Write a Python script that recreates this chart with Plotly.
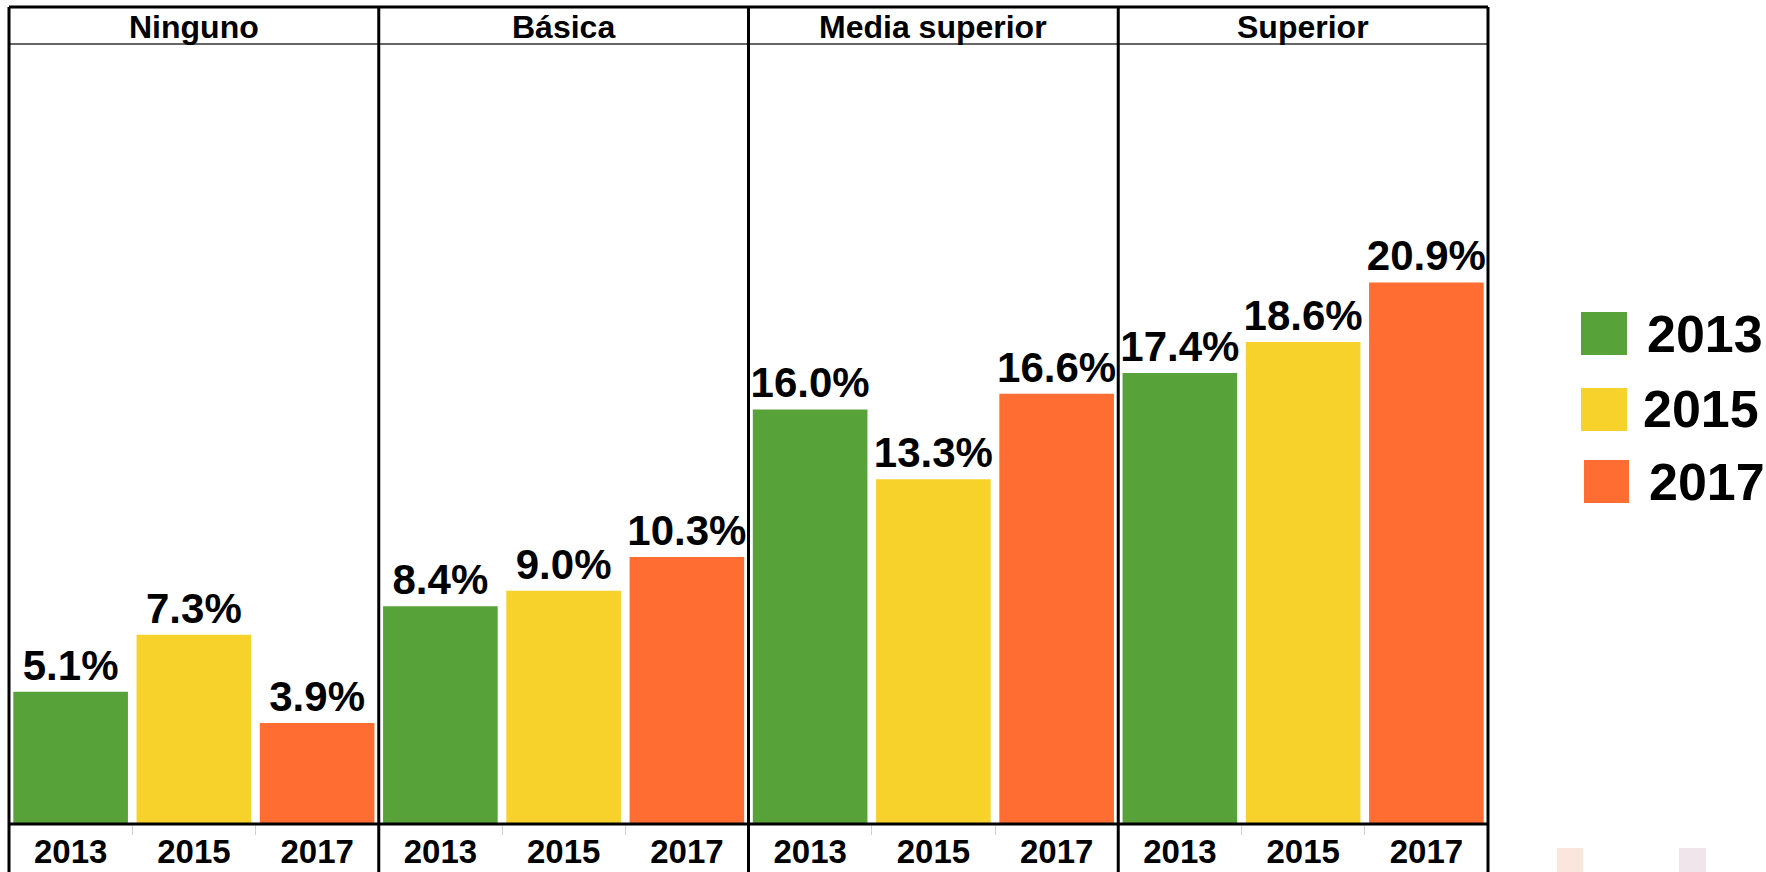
import plotly.graph_objects as go
from plotly.subplots import make_subplots

# ---- data ----
levels = ["Ninguno", "Básica", "Media superior", "Superior"]
years = ["2013", "2015", "2017"]
values_ninguno = [5.1, 7.3, 3.9]
values_basica = [8.4, 9.0, 10.3]
values_media = [16.0, 13.3, 16.6]
values_superior = [17.4, 18.6, 20.9]
year_colors = ["#58A23A", "#F6D22B", "#FF6D32"]

series = [values_ninguno, values_basica, values_media, values_superior]

W, H = 1766, 872
L, R, T, B = 9, 278, 44, 48
FONT = "Liberation Sans, Arial, sans-serif"

fig = make_subplots(rows=1, cols=4, shared_yaxes=True, horizontal_spacing=0)

for i, vals in enumerate(series):
    fig.add_trace(
        go.Bar(
            x=years, y=vals,
            marker=dict(color=year_colors, line=dict(width=0)),
            texttemplate="<b>%{y:.1f}%</b>",
            textposition="outside",
            constraintext="none",
            cliponaxis=False,
            textfont=dict(family=FONT, size=42, color="black"),
            showlegend=False,
            hoverinfo="skip",
        ),
        row=1, col=i + 1,
    )
    fig.update_xaxes(
        row=1, col=i + 1,
        type="category",
        tickson="boundaries",
        ticks="outside", ticklen=10, tickcolor="#d0d0d0", tickwidth=1,
        ticklabelstandoff=5,
        automargin=False,
        tickfont=dict(family=FONT, size=33, color="black"),
        tickprefix="<b>", ticksuffix="</b>",
        showgrid=False, zeroline=False, showline=False,
        fixedrange=True,
    )

fig.update_yaxes(range=[0, 30.1], visible=False, showgrid=False, zeroline=False,
                 fixedrange=True, automargin=False)

pw = W - L - R
ph = H - T - B
def px_x(p):
    return (p - L) / pw
def px_y(p):
    return (H - B - p) / ph

shapes = []
top = px_y(7)
bot = px_y(872)
# outer frame
shapes.append(dict(type="line", xref="paper", yref="paper", x0=0, x1=1, y0=top, y1=top,
                   line=dict(color="black", width=3)))
shapes.append(dict(type="line", xref="paper", yref="paper", x0=0, x1=1, y0=1, y1=1,
                   line=dict(color="#333", width=1.5)))
shapes.append(dict(type="line", xref="paper", yref="paper", x0=0, x1=1, y0=0, y1=0,
                   line=dict(color="black", width=3)))
for k in range(len(levels) + 1):
    xk = k / len(levels)
    shapes.append(dict(type="line", xref="paper", yref="paper", x0=xk, x1=xk, y0=bot, y1=top,
                       line=dict(color="black", width=3)))

annotations = []
for k, name in enumerate(levels):
    annotations.append(dict(
        x=(k + 0.5) / len(levels), y=px_y(27), xref="paper", yref="paper",
        text=f"<b>{name}</b>", showarrow=False,
        font=dict(family=FONT, size=32, color="black"),
        xanchor="center", yanchor="middle",
    ))

# custom legend
leg_boxes = [(1581, 1627, 312, 355), (1581, 1627, 388, 431), (1584, 1629, 460, 503)]
leg_text_x = [1645, 1641, 1647]
leg_text_y = [334, 409, 482]
for (x0, x1, y0, y1), tx, ty, yr, col in zip(leg_boxes, leg_text_x, leg_text_y, years, year_colors):
    shapes.append(dict(type="rect", xref="paper", yref="paper",
                       x0=px_x(x0), x1=px_x(x1), y0=px_y(y1), y1=px_y(y0),
                       fillcolor=col, line=dict(width=0)))
    annotations.append(dict(
        x=px_x(tx), y=px_y(ty), xref="paper", yref="paper",
        text=f"<b>{yr}</b>", showarrow=False,
        font=dict(family=FONT, size=52, color="black"),
        xanchor="left", yanchor="middle",
    ))

# faint artifacts at bottom right
shapes.append(dict(type="rect", xref="paper", yref="paper",
                   x0=px_x(1557), x1=px_x(1583), y0=px_y(872), y1=px_y(848),
                   fillcolor="#FBE6DD", line=dict(width=0)))
shapes.append(dict(type="rect", xref="paper", yref="paper",
                   x0=px_x(1679), x1=px_x(1706), y0=px_y(872), y1=px_y(848),
                   fillcolor="#EFE5EA", line=dict(width=0)))

fig.update_layout(
    width=W, height=H, autosize=False,
    margin=dict(l=L, r=R, t=T, b=B),
    plot_bgcolor="white", paper_bgcolor="white",
    bargap=0.07,
    showlegend=False,
    shapes=shapes,
    annotations=annotations,
)

fig.write_html(
    "out.html",
    config={"displayModeBar": False, "staticPlot": True},
    post_script="document.body.style.margin='0';document.body.style.overflow='hidden';",
)
